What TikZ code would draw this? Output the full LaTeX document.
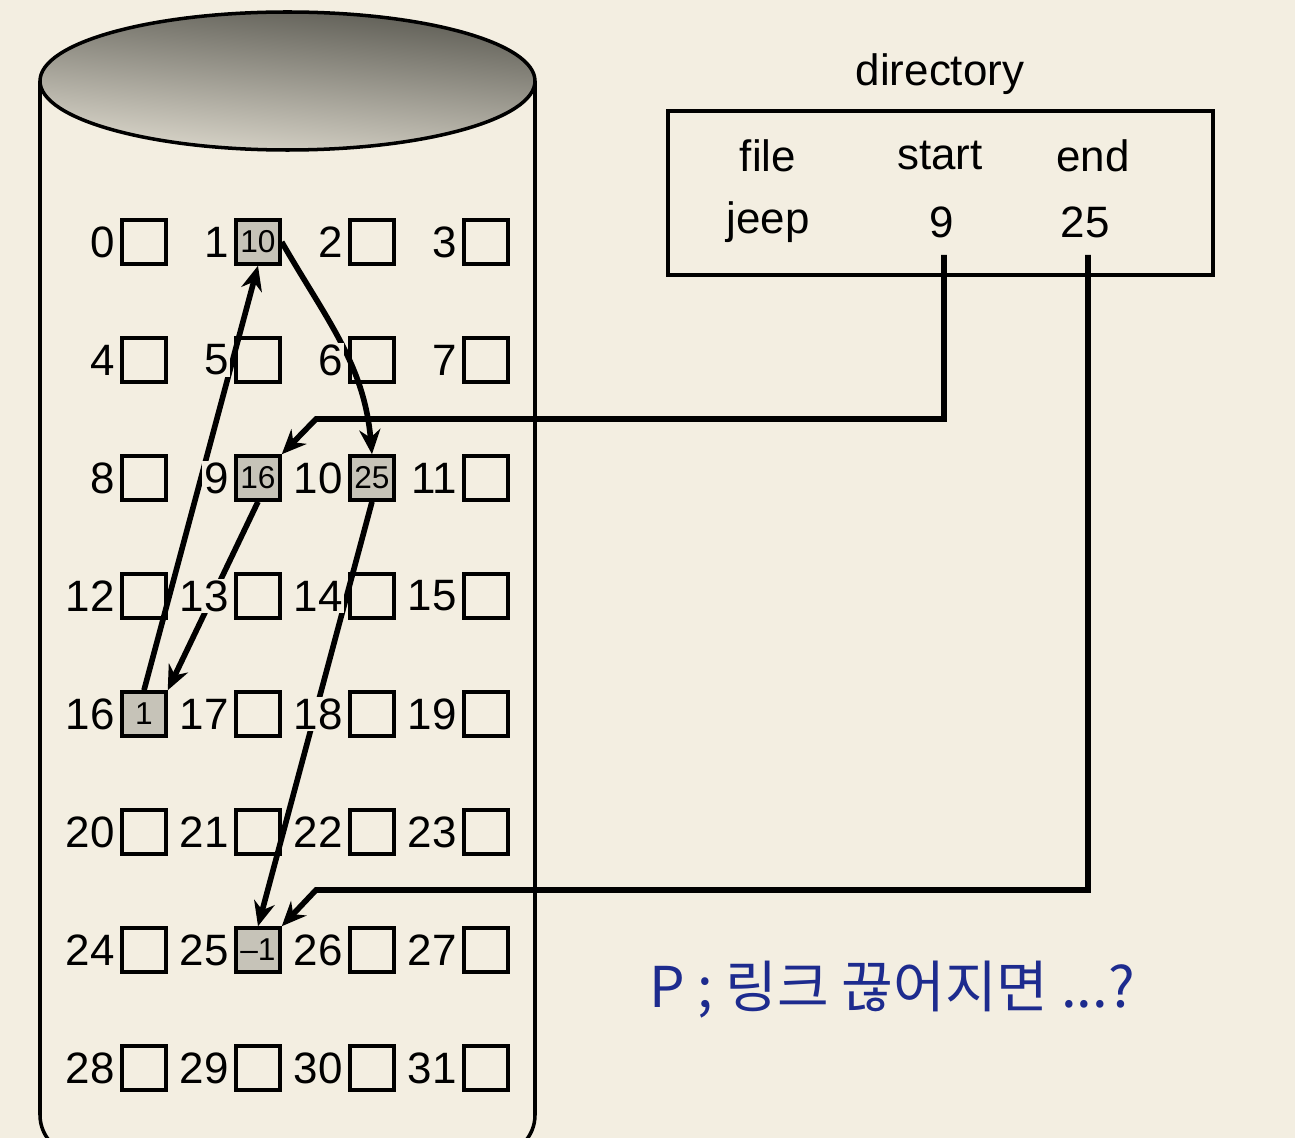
\documentclass[tikz,border=0pt]{standalone}
\usepackage{fontspec}
\setmainfont{Liberation Sans}
\newfontfamily\krfont{Noto Sans CJK KR}
\usetikzlibrary{positioning,arrows.meta}
\definecolor{paper}{HTML}{F3EEE1}
\definecolor{blkgray}{HTML}{C6C3B8}
\definecolor{diskdark}{HTML}{5B5A52}
\definecolor{disklight}{HTML}{DDD9CD}
\definecolor{penblue}{HTML}{1D2B8E}
\tikzset{
  blk/.style={draw,line width=2pt,minimum size=0.88cm,inner sep=0pt},
  used/.style={blk,fill=blkgray,font=\fontsize{18}{20}\selectfont},
  num/.style={fill=paper,inner sep=1pt,font=\fontsize{25}{28}\selectfont},
  txt/.style={font=\fontsize{25}{28}\selectfont},
  link/.style={->,line width=3.2pt},
}
\begin{document}
\begin{tikzpicture}[x=0.02cm,y=-0.02cm,>={Stealth[length=14pt,width=12pt]}]
	  \clip (0,0) rectangle (1295,1138);
	  \fill[paper] (0,0) rectangle (1295,1138);
	  % disk
	  \draw[line width=2pt,rounded corners=0.8cm] (40,81) -- (40,1155) -- (535,1155) -- (535,81);
	  \shade[draw,line width=2pt,top color=diskdark,bottom color=disklight,shading angle=-6]
	    (287.5,81) ellipse [x radius=247.5,y radius=69];
	  % blocks
	  \foreach \i in {0,2,3,4,5,6,7,8,11,12,13,14,15,17,18,19,20,21,22,23,24,26,27,28,29,30,31} {
	    \pgfmathtruncatemacro{\col}{mod(\i,4)}
	    \pgfmathtruncatemacro{\row}{\i/4}
	    \node[blk] (b\i) at (144+114*\col,242+118*\row) {};
	  }
	  \foreach \i/\v in {1/10,9/16,10/25,16/1,25/{\textendash1}} {
	    \pgfmathtruncatemacro{\col}{mod(\i,4)}
	    \pgfmathtruncatemacro{\row}{\i/4}
	    \node[used] (b\i) at (144+114*\col,242+118*\row) {\v};
	  }
	  % directory
	  \node[txt] (dirname) at (940,74) {directory};
	  \node[draw,line width=2pt,minimum width=10.9cm,minimum height=3.28cm] (dir) at (940.5,193) {};
	  \node[txt] (hfile) at (768,156) {file};
	  \node[txt] (hstart) at (940,156) {start};
	  \node[txt] (hend) at (1093,156) {end};
	  \node[txt] (jeep) at (768,222) {jeep};
	  \node[txt] (start) at (942,222) {9};
	  \node[txt] (end) at (1085,222) {25};
	  \coordinate (s0) at (944,255);
	  \coordinate (s1) at (316,419);
	  \coordinate (e0) at (1088,255);
	  \coordinate (e1) at (316,890);
	  \draw[link] (s0) |- (s1) -- (b9.north east);
	  \draw[link] (e0) |- (e1) -- (b25.north east);
	  % chain
	  \draw[link] (b9.south) -- (b16.north east);
	  \draw[link] (b16.north) -- (b1.south);
	  \draw[link] (b1.east) .. controls +(45,78) and +(-8,-90) .. (b10.north);
	  \draw[link] (b10.south) -- (b25.north);
	  \foreach \i in {0,...,31}
	    \node[num,left=2pt of b\i] (n\i) {\i};
	  % note
	  \node[text=penblue,font=\krfont\fontsize{32}{38}\selectfont] (note) at (892,990) {P ; 링크 끊어지면 ...?};
	\end{tikzpicture}
\end{document}
